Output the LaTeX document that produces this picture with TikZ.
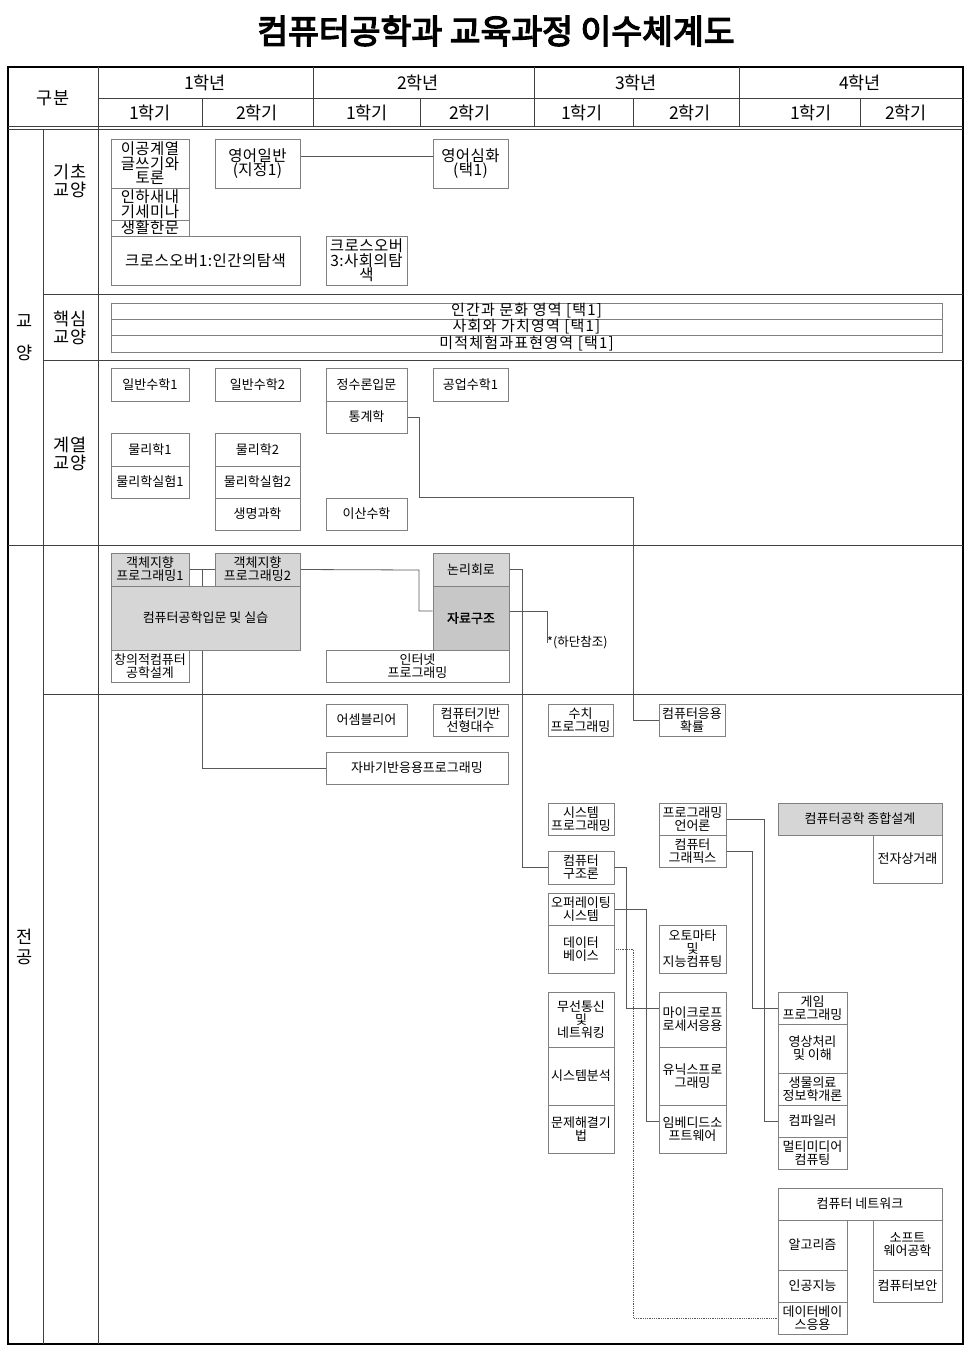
\documentclass[tikz,border=0pt]{standalone}
\usepackage{fontspec}
\setmainfont{Noto Sans CJK KR}
\newfontfamily\titlefont[FakeBold=4]{Noto Sans CJK KR}
\newfontfamily\boldkr[FakeBold=1.5]{Noto Sans CJK KR}
\newfontfamily\spacedkr[LetterSpace=8]{Noto Sans CJK KR}
\newfontfamily\lightspacedkr[LetterSpace=3]{Noto Sans CJK KR}
\pgfdeclarelayer{bg}
\pgfsetlayers{bg,main}
\newcommand\crsbox[7][]{\node[box,#1,minimum width={(#5)-(#3)}, minimum height={(#6)-(#4)}] (#2) at ({((#3)+(#5))/2},{((#4)+(#6))/2}) {#7};}
\begin{document}
\begin{tikzpicture}[x=1pt,y=-1pt,
  box/.style={draw=black!50, line width=0.8pt, fill=white, inner sep=0pt, align=center, font=\fontsize{13}{13}\selectfont},
  gbox/.style={fill=black!16},
  dbox/.style={fill=black!22},
  serifbox/.style={font=\lightspacedkr\fontsize{15.5}{14.5}\selectfont},
  corebox/.style={font=\spacedkr\fontsize{15}{15}\selectfont},
  conn/.style={draw=black!65, line width=0.8pt},
  gridline/.style={draw=black!75, line width=0.9pt},
  hdr/.style={font=\fontsize{17.5}{18}\selectfont, inner sep=0pt, align=center},
 ]
\useasboundingbox (0,0) rectangle (971,1350);
% title
\node[font=\titlefont\fontsize{33.5}{34}\selectfont, inner sep=0pt] (title) at (496,31) {컴퓨터공학과 교육과정 이수체계도};
% frame and grid
\draw[line width=2.4pt] (8,67) rectangle (963,1344);
\draw[gridline] (98,67) -- (98,1344);
\draw[gridline] (43,129) -- (43,1344);
\draw[gridline] (98,98) -- (963,98);
\foreach \xx in {313,534,739} \draw[gridline] (\xx,67) -- (\xx,127);
\foreach \xx in {202,420,633,860} \draw[gridline] (\xx,98) -- (\xx,127);
\draw[gridline] (8,126.5) -- (963,126.5);
\draw[gridline] (8,129.5) -- (963,129.5);
\draw[gridline] (43,294) -- (963,294);
\draw[gridline] (43,360) -- (963,360);
\draw[gridline] (8,545) -- (963,545);
\draw[gridline] (43,694) -- (963,694);
% header texts
\node[hdr] (gubun) at (53,98) {구분};
\node[hdr] (y1) at (205,83) {1학년};
\node[hdr] (y2) at (418,83) {2학년};
\node[hdr] (y3) at (636,83) {3학년};
\node[hdr] (y4) at (860,83) {4학년};
\node[hdr] (s11) at (150,113) {1학기};
\node[hdr] (s12) at (257,113) {2학기};
\node[hdr] (s21) at (367,113) {1학기};
\node[hdr] (s22) at (470,113) {2학기};
\node[hdr] (s31) at (582,113) {1학기};
\node[hdr] (s32) at (690,113) {2학기};
\node[hdr] (s41) at (811,113) {1학기};
\node[hdr] (s42) at (906,113) {2학기};
% left labels
\node[hdr] (gy1) at (25,321) {교};
\node[hdr] (gy2) at (25,353) {양};
\node[hdr, font=\fontsize{17.5}{20}\selectfont] (jg) at (25,947) {전\\공};
\node[hdr] (lab1) at (70,181) {기초\\교양};
\node[hdr] (lab2) at (70,328) {핵심\\교양};
\node[hdr] (lab3) at (70,454) {계열\\교양};
% 기초교양
\crsbox[serifbox]{a1}{111}{139}{189}{188}{이공계열\\글쓰기와\\토론}
\crsbox[serifbox]{a2}{111}{188}{189}{220}{인하새내\\기세미나}
\crsbox[serifbox]{a3}{111}{220}{189}{236}{생활한문}
\crsbox[serifbox]{a4}{111}{236}{300}{285}{크로스오버1:인간의탐색}
\crsbox[serifbox]{eng1}{215}{139}{300}{188}{영어일반\\(지정1)}
\crsbox[serifbox]{eng2}{433}{139}{508}{188}{영어심화\\(택1)}
\crsbox[serifbox]{cross3}{326}{236}{407}{285}{크로스오버\\3:사회의탐\\색}
% 핵심교양
\crsbox[corebox]{h1}{111}{303}{942}{319}{인간과 문화 영역 [택1]}
\crsbox[corebox]{h2}{111}{319}{942}{335}{사회와 가치영역 [택1]}
\crsbox[corebox]{h3}{111}{335}{942}{352}{미적체험과표현영역 [택1]}
% 계열교양
\crsbox{m1}{111}{368}{189}{401}{일반수학1}
\crsbox{m2}{215}{368}{300}{401}{일반수학2}
\crsbox{nt}{326}{368}{407}{401}{정수론입문}
\crsbox{stat}{326}{401}{407}{433}{통계학}
\crsbox{em1}{433}{368}{508}{401}{공업수학1}
\crsbox{p1}{111}{433}{189}{466}{물리학1}
\crsbox{pl1}{111}{466}{189}{498}{물리학실험1}
\crsbox{p2}{215}{433}{300}{466}{물리학2}
\crsbox{pl2}{215}{466}{300}{498}{물리학실험2}
\crsbox{bio}{215}{498}{300}{530}{생명과학}
\crsbox{dm}{326}{498}{407}{530}{이산수학}
% 전공 1
\crsbox[gbox]{oop1}{111}{553}{189}{586}{객체지향\\프로그래밍1}
\crsbox[gbox]{oop2}{215}{553}{300}{586}{객체지향\\프로그래밍2}
\crsbox[gbox]{intro}{111}{586}{300}{650}{컴퓨터공학입문 및 실습}
\crsbox{cre}{111}{650}{189}{682}{창의적컴퓨터\\공학설계}
\crsbox[gbox]{logic}{433}{553}{509}{586}{논리회로}
\crsbox[dbox]{ds}{433}{586}{509}{650}{\boldkr 자료구조}
\crsbox{web}{326}{650}{509}{682}{인터넷\\프로그래밍}
\node[font=\fontsize{12.5}{13}\selectfont, inner sep=0pt, anchor=west] (ref) at (547,643) {*(하단참조)};
% 전공 2
\crsbox{asm}{326}{704}{407}{736}{어셈블리어}
\crsbox{la}{433}{704}{508}{736}{컴퓨터기반\\선형대수}
\crsbox{java}{326}{752}{508}{784}{자바기반응용프로그래밍}
\crsbox{num}{548}{704}{613}{736}{수치\\프로그래밍}
\crsbox{prob}{659}{704}{725}{736}{컴퓨터응용\\확률}
\crsbox{sp}{548}{803}{614}{835}{시스템\\프로그래밍}
\crsbox{arch}{548}{851}{614}{884}{컴퓨터\\구조론}
\crsbox{os}{548}{893}{614}{925}{오퍼레이팅\\시스템}
\crsbox{db}{548}{925}{614}{973}{데이터\\베이스}
\crsbox{pl}{659}{803}{726}{835}{프로그래밍\\언어론}
\crsbox{cg}{659}{835}{726}{867}{컴퓨터\\그래픽스}
\crsbox[gbox]{cap}{778}{803}{942}{835}{컴퓨터공학 종합설계}
\crsbox{ec}{873}{835}{942}{883}{전자상거래}
\crsbox{auto}{659}{925}{726}{973}{오토마타\\및\\지능컴퓨팅}
\crsbox{wn}{548}{992}{614}{1047}{무선통신\\및\\네트워킹}
\crsbox{sa}{548}{1047}{614}{1105}{시스템분석}
\crsbox{ps}{548}{1105}{614}{1153}{문제해결기\\법}
\crsbox{micro}{659}{992}{726}{1047}{마이크로프\\로세서응용}
\crsbox{unix}{659}{1047}{726}{1105}{유닉스프로\\그래밍}
\crsbox{emb}{659}{1105}{726}{1153}{임베디드소\\프트웨어}
\crsbox{game}{778}{992}{847}{1024}{게임\\프로그래밍}
\crsbox{img}{778}{1024}{847}{1073}{영상처리\\및 이해}
\crsbox{bme}{778}{1073}{847}{1105}{생물의료\\정보학개론}
\crsbox{comp}{778}{1105}{847}{1137}{컴파일러}
\crsbox{mm}{778}{1137}{847}{1169}{멀티미디어\\컴퓨팅}
\crsbox{net}{778}{1188}{942}{1220}{컴퓨터 네트워크}
\crsbox{algo}{778}{1220}{847}{1270}{알고리즘}
\crsbox{ai}{778}{1270}{847}{1302}{인공지능}
\crsbox{dbapp}{778}{1302}{847}{1334}{데이터베이\\스응용}
\crsbox{se}{873}{1220}{942}{1270}{소프트\\웨어공학}
\crsbox{sec}{873}{1270}{942}{1302}{컴퓨터보안}
% connectors
\begin{pgfonlayer}{bg}
\coordinate (e156) at (0,156);
\draw[conn] (eng1.east |- e156) -- (eng2.west |- e156);
\draw[conn] (stat.east) -- (419,417) -- (419,497) -- (633,497) |- (prob.west);
\draw[conn] (oop1.east) -- (oop2.west);
\draw[conn] (oop1.east) -- ++(13,0) |- (java.west);
\draw[conn] (oop2.east) -- (419,570) |- ([yshift=7pt]ds.west);
\draw[conn] (logic.east) -- ++(13,0) |- (arch.west);
\draw[conn] ([yshift=7pt]ds.east) -| (ref.west);
\draw[conn] (arch.east) -- ++(12,0) |- ([yshift=11.5pt]micro.west);
\draw[conn] (os.east) -- ++(32,0) |- ([yshift=8pt]emb.west);
\draw[conn, densely dotted] (db.east) -- ++(19,0) |- (dbapp.west);
\draw[conn] (pl.east) -- ++(38,0) |- (comp.west);
\draw[conn] (cg.east) -- ++(26,0) |- (game.west);
\end{pgfonlayer}
\end{tikzpicture}
\end{document}
